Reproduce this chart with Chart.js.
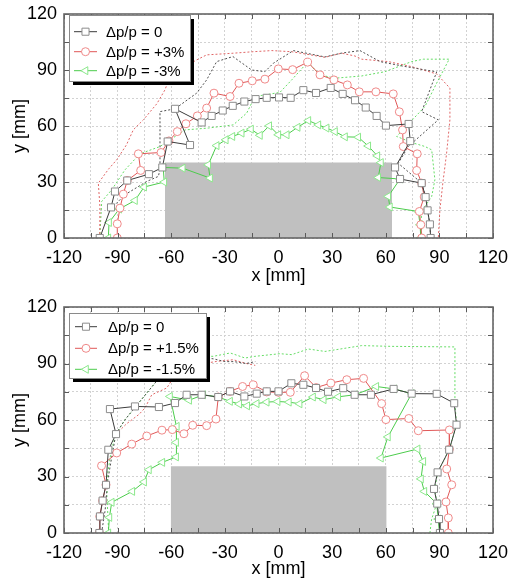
<!DOCTYPE html>
<html><head><meta charset="utf-8">
<script src="https://cdn.jsdelivr.net/npm/chart.js@4/dist/chart.umd.min.js"></script>
<style>
html,body{margin:0;padding:0;background:#fff;}
#wrap{width:510px;height:586px;position:relative;overflow:hidden;}
.pane{position:absolute;left:0;width:510px;height:293px;}
canvas{display:block;}
</style></head><body>
<div id="wrap">
<div class="pane" style="top:0"><canvas id="c1" width="510" height="293"></canvas></div>
<div class="pane" style="top:293px"><canvas id="c2" width="510" height="293"></canvas></div>
</div>
<script>
// ---------------- DATA ----------------
const xTickValues = [-120, -90, -60, -30, 0, 30, 60, 90, 120];
const yTickValues = [0, 30, 60, 90, 120];

const topLabels = ['\u0394p/p = 0', '\u0394p/p = +3%', '\u0394p/p = -3%'];
const bottomLabels = ['\u0394p/p = 0', '\u0394p/p = +1.5%', '\u0394p/p = -1.5%'];

// top panel: solid series with markers
const topZeroX = [-100, -93.7, -91.5, -84.6, -72.5, -65, -62, -49.5, -57.9, -43, -37.4, -31.2, -25.6, -19.1, -12.8, -6.6, 0.3, 6.8, 13.9, 21, 29.2, 35.9, 42.8, 48.8, 54.9, 60.1, 72.8, 73.7, 65.2, 68, 80.1, 82.3, 83.4, 84.7, 85.1];
const topZeroY = [0, 16.4, 24.9, 30.8, 34.2, 37.8, 51.7, 49.8, 69.2, 61.9, 65.4, 68.3, 70.8, 73.1, 74.4, 75.1, 75.3, 75.1, 79.2, 77.7, 80.4, 77.2, 73.8, 69.9, 65.4, 60.2, 61.1, 51.9, 37.8, 31.6, 29.4, 21.9, 14.8, 7.3, 0];
const topPlusX = [-90.2, -90.2, -88.7, -86.8, -84.6, -77.1, -78.4, -65.7, -61.3, -56.6, -51.8, -45.4, -40.2, -36.1, -27.1, -22.1, -14.7, -7.6, -0.1, 7.9, 16.3, 23.2, 31, 38.5, 45.2, 54.5, 64.2, 67.6, 69.4, 69.8, 77.6, 77.3, 80.1, 81.5, 78.8, 79.6, 80.1];
const topPlusY = [0, 7.6, 16, 23.5, 30.8, 36.2, 45.1, 45.8, 52, 57, 61.2, 65.4, 69.6, 77.6, 75.8, 82.9, 84.2, 85.1, 90.6, 90.2, 94.2, 87.4, 84.7, 82, 78.3, 78.3, 77.2, 67.6, 57.9, 49, 45.1, 36.2, 29.4, 22, 14.2, 7.1, 0];
const topMinusX = [-95.2, -94.8, -89.1, -80.3, -75.2, -63.9, -64.5, -53.6, -38.3, -39.3, -34.6, -29.5, -25.8, -20.6, -15.4, -10.4, -5.2, -0.1, 4.6, 10.7, 16.7, 22.3, 26.9, 31.6, 37.2, 44.6, 50.2, 55.3, 57.3, 55.8, 68, 61.4, 62.3, 78.2, 79.2, 79.6];
const topMinusY = [0, 8.3, 15.5, 20.1, 27.3, 30, 37.8, 37.4, 32.1, 39.2, 49.5, 52.6, 54.4, 56.2, 58.3, 55, 60.1, 55.3, 55.3, 59.3, 62.9, 60.6, 58.9, 57, 54.2, 54, 49.3, 44, 40.4, 32.4, 31.6, 22.3, 16.6, 14.2, 7.1, 0];

// top panel: dotted outlines
const topZeroDotX = [-92.4, -85.9, -73.7, -67.2, -66.3, -66.3, -57.9, -45.8, -40.2, -34.6, -25.5, -15, -7.6, -2.9, 8.3, 26, 35, 45.6, 56.8, 70, 88.5, 80.1, 89.4, 72.6, 67, 80.1, 82.3, 83.4, 84.7, 85.1];
const topZeroDotY = [16.9, 23.2, 30.3, 33, 37, 67.7, 69.2, 77.6, 84.7, 94.5, 97.2, 90, 89.1, 93.6, 100.4, 97, 99, 100.4, 94.5, 92, 89, 67.7, 63.3, 49, 40, 29.4, 21.9, 14.8, 7.3, 0];
const topPlusDotX = [-100, -99.9, -100.8, -95, -90.5, -85, -81.2, -75.6, -68, -63.5, -60.7, -52, -45.8, -40.2, -25.3, -14.1, -3.8, 7.4, 26, 35.3, 42.8, 46.5, 61.4, 74.5, 88.5, 95.9, 95.9, 94, 92, 90.3, 89.4];
const topPlusDotY = [0, 16.9, 29.4, 37, 41.9, 50, 58, 63.3, 72, 79.4, 86.5, 92, 95.4, 98.1, 99, 99.8, 100.4, 99.8, 96.8, 99, 97.5, 95.8, 94.5, 91.8, 87.9, 80.3, 63.3, 45, 30, 15.1, 0];
const topMinusDotX = [-100, -98.9, -93.3, -85.9, -77.5, -66.3, -52.3, -39.3, -25.3, -17.8, -13.2, 0.8, 7.4, 16.3, 23.2, 31.6, 46.5, 59.6, 74.5, 81, 95.5, 88.5, 81.9, 66.1, 75, 82, 85.7, 87.5, 85.7, 80, 79.6];
const topMinusDotY = [0, 19.6, 25.8, 36.5, 45.1, 49, 57.9, 58.9, 60.6, 66.9, 75.8, 78, 84.7, 94.2, 87.4, 85.6, 86.8, 89.1, 94.5, 95.8, 95.8, 83, 70.4, 54.4, 51, 49, 47.2, 31.2, 22.3, 14, 0];

// bottom panel: solid series with markers
const botZeroX = [-100.2, -99.9, -98.4, -96.5, -95.2, -90.9, -94.3, -80.3, -66.9, -57.9, -51.4, -43, -33.7, -27.1, -19.1, -12.2, -6.6, 0, 7.2, 13.9, 21, 27.7, 36.2, 42.6, 51.7, 64.4, 74.5, 88.5, 98.3, 99.6, 95.5, 89, 87, 88.8, 89.8, 90.3];
const botZeroY = [0, 8.8, 17.2, 25.6, 44.2, 52.5, 65.8, 67.2, 66.9, 69, 73.4, 73.4, 72.2, 75.2, 72.5, 74, 75.2, 75.2, 79.5, 78.7, 77, 75, 76.9, 73.4, 73.4, 76.5, 74, 73.9, 68.9, 57.5, 44.2, 32.2, 23.4, 15.6, 7.4, 0];
const botPlusX = [-100.2, -100, -98.4, -96.5, -99, -90.5, -82.1, -73.7, -65.2, -59.4, -52.9, -48, -40.2, -35, -33.7, -27.1, -20.1, -14.1, -6.6, 0, 6.6, 14.6, 21.1, 29.3, 38.2, 47.6, 57.7, 60.1, 72.9, 78.2, 95.6, 95.6, 94.1, 96.9, 93.7, 95, 95];
const botPlusY = [0, 8.8, 17.2, 25.6, 35.7, 42.5, 47.2, 51.5, 54.6, 54.9, 52.7, 57.2, 57, 60.5, 72.2, 75.2, 77.8, 78.7, 74.9, 74.7, 74.7, 83.5, 77.2, 79.6, 81.4, 82.1, 68.7, 60.2, 60.8, 54.3, 54.7, 44.5, 34, 25.6, 16.5, 8, 0];
const botMinusX = [-95.2, -94.6, -93.3, -81.8, -75.2, -72.5, -65, -57.3, -57.3, -56.9, -60.7, -50, -42.1, -33.7, -27.1, -22, -17.5, -12.2, -6.6, -0.5, 5.8, 11.8, 19.3, 25.3, 33.4, 42.8, 54.7, 64.7, 74.5, 61.2, 57.3, 77.8, 81, 79.7, 81.6, 88.5, 89.4, 90];
const botMinusY = [0, 8.3, 16.3, 22.1, 27.1, 33.6, 37.5, 40.4, 48.1, 56.6, 72.5, 70.5, 73.4, 72.2, 69.9, 68.5, 67.5, 68.7, 69.5, 69.8, 69.5, 68.6, 72.2, 70.8, 72.3, 73.4, 77.8, 76.5, 74, 51, 39.8, 44.6, 38, 28.7, 22.1, 15.6, 7.4, 0];

// bottom panel: dotted outlines
const botZeroDotX = [-99, -97, -95.5, -93, -91, -86, -80, -73.7, -64.4, -57, -51.4, -45, -36.5, -30, -25, -18, -13];
const botZeroDotY = [0, 12, 28, 42, 52.4, 60, 67, 74.3, 85, 91.5, 94.2, 93, 92.5, 91, 91, 90, 91];
const botPlusDotX = [-91, -85, -78, -74.7, -70.9, -62.5, -58.9, -52, -45.8, -34.6, -25.3, -18, -13];
const botPlusDotY = [52.4, 58, 63, 66.4, 73.4, 77, 82.3, 86, 89.4, 91.1, 92, 90, 89];
const botMinusDotX = [-95, -95.5, -96, -95.5, -93.5, -91, -86, -80, -73.7, -64.4, -57, -51.4, -45, -36.5, -27, -18.7, -13.2, 0.8, 7.4, 16.7, 26, 46.5, 63.3, 98.7, 98.7, 99.6, 95.5, 89, 87.5, 88.5, 85.6, 84.7];
const botMinusDotY = [0, 10, 20, 32, 44, 52.4, 60, 67, 74.3, 85, 92, 94.7, 94, 93.8, 95.6, 92.9, 93.8, 95.2, 94.7, 97.7, 96.4, 99.5, 99.1, 98.8, 69, 57.5, 44.2, 32.2, 23.4, 15.6, 7, 0];

// grey block (x extent, height)
const topBlockX = [-63.5, 63.5];
const topBlockY = [40.5, 40.5];
const botBlockX = [-60.3, 60.5];
const botBlockY = [35.4, 35.4];

// ---------------- STYLE ----------------
const FONT = "'Liberation Sans', Arial, Helvetica, sans-serif";
Chart.defaults.font.family = FONT;
Chart.defaults.color = '#000';

const ST = {
  zero:  {line: '#3c3c3c', mark: '#8c8c8c', style: 'rect', r: 5, rot: 0, dot: '#505050'},
  plus:  {line: '#e05858', mark: '#f08a8a', style: 'circle', r: 4, rot: 0, dot: '#e06666'},
  minus: {line: '#4ccc4c', mark: '#8ce88c', style: 'triangle', r: 4.6, rot: -90, dot: '#66dd66'}
};

function pts(xs, ys) { return xs.map((x, i) => ({x: x, y: ys[i]})); }

function solid(label, xs, ys, s) {
  return {label: label, data: pts(xs, ys), borderColor: s.line, borderWidth: 1, fill: false,
    pointStyle: s.style, pointRadius: s.r, pointRotation: s.rot, pointBorderColor: s.mark,
    pointBackgroundColor: '#ffffff', pointBorderWidth: 1, tension: 0, order: 1, _legend: s};
}
function dotted(xs, ys, s) {
  return {label: '', data: pts(xs, ys), borderColor: s.dot, borderWidth: 1, borderDash: [2, 2],
    fill: false, pointRadius: 0, tension: 0, order: 5};
}
function block(xs, ys) {
  return {label: '', data: pts(xs, ys), borderWidth: 0, borderColor: 'rgba(0,0,0,0)',
    backgroundColor: '#c0c0c0', fill: 'origin', pointRadius: 0, order: 10};
}

const framePlugin = {
  id: 'frameTicks',
  afterDatasetsDraw(chart) {
    const {ctx, chartArea: a, scales: {x, y}} = chart;
    ctx.save();
    ctx.strokeStyle = '#5a5a5a';
    ctx.lineWidth = 1;
    ctx.beginPath();
    for (let v = -120; v <= 120; v += 15) {
      const px = Math.round(x.getPixelForValue(v)) + 0.5;
      ctx.moveTo(px, a.bottom); ctx.lineTo(px, a.bottom - 5);
      ctx.moveTo(px, a.top); ctx.lineTo(px, a.top + 5);
    }
    for (let v = 0; v <= 120; v += 15) {
      const py = Math.round(y.getPixelForValue(v)) + 0.5;
      ctx.moveTo(a.left, py); ctx.lineTo(a.left + 5, py);
      ctx.moveTo(a.right, py); ctx.lineTo(a.right - 5, py);
    }
    ctx.stroke();
    ctx.lineWidth = 1.6;
    ctx.strokeStyle = '#666666';
    ctx.strokeRect(a.left, a.top, a.right - a.left, a.bottom - a.top);
    ctx.restore();
  },
  afterDraw(chart, args, opts) {
    if (!opts || !opts.box) return;
    const {ctx} = chart;
    const b = opts.box;
    ctx.save();
    ctx.fillStyle = '#000';
    ctx.fillRect(b.x + 4, b.y + 4, b.w, b.h);
    ctx.fillStyle = '#fff';
    ctx.fillRect(b.x, b.y, b.w, b.h);
    ctx.strokeStyle = '#8a8a8a';
    ctx.lineWidth = 1;
    ctx.strokeRect(b.x + 0.5, b.y + 0.5, b.w, b.h);
    const ds = chart.data.datasets.filter(d => d._legend);
    ds.forEach((d, i) => {
      const s = d._legend;
      const ry = b.rows[i];
      ctx.strokeStyle = s.line; ctx.lineWidth = 1; ctx.setLineDash([]);
      ctx.beginPath(); ctx.moveTo(b.l0, ry); ctx.lineTo(b.l1, ry); ctx.stroke();
      ctx.fillStyle = '#fff'; ctx.strokeStyle = s.mark;
      Chart.helpers.drawPoint(ctx, {pointStyle: s.style, radius: s.r, rotation: s.rot, borderWidth: 1}, (b.l0 + b.l1) / 2, ry);
      ctx.fillStyle = '#000';
      ctx.font = '15px ' + FONT;
      ctx.textBaseline = 'middle';
      ctx.textAlign = 'left';
      ctx.fillText(d.label, b.tx, ry + 1);
    });
    ctx.restore();
  }
};

function makeChart(id, datasets, axisH, box) {
  return new Chart(document.getElementById(id), {
    type: 'line',
    data: {datasets: datasets},
    plugins: [framePlugin],
    options: {
      responsive: false, animation: false, events: [],
      layout: {padding: {left: 0, right: 17, top: 14, bottom: 0}},
      plugins: {legend: {display: false}, tooltip: {enabled: false}, frameTicks: {box: box}},
      scales: {
        x: {type: 'linear', min: -120, max: 120,
          ticks: {stepSize: 15, autoSkip: false, maxRotation: 0, padding: 9, color: '#000', font: {size: 18},
            callback: v => xTickValues.includes(Math.round(v)) ? String(Math.round(v)) : ''},
          grid: {color: '#d2d2d2', lineWidth: 1, drawTicks: false},
          border: {display: false, dash: [2, 2]},
          title: {display: true, text: 'x [mm]', color: '#000', font: {size: 18}, padding: {top: 0, bottom: 6}},
          afterFit(s) { s.height = axisH; s.paddingLeft = 0; s.paddingRight = 0; }
        },
        y: {type: 'linear', min: 0, max: 120,
          ticks: {stepSize: 15, autoSkip: false, padding: 7, color: '#000', font: {size: 18},
            callback: v => yTickValues.includes(Math.round(v)) ? String(Math.round(v)) : ''},
          grid: {color: '#d2d2d2', lineWidth: 1, drawTicks: false},
          border: {display: false, dash: [2, 2]},
          title: {display: true, text: 'y [mm]', color: '#000', font: {size: 18}, padding: {top: 9, bottom: 0}},
          afterFit(s) { s.width = 64; s.paddingTop = 0; s.paddingBottom = 0; }
        }
      }
    }
  });
}

makeChart('c1', [
  solid(topLabels[0], topZeroX, topZeroY, ST.zero),
  solid(topLabels[1], topPlusX, topPlusY, ST.plus),
  solid(topLabels[2], topMinusX, topMinusY, ST.minus),
  dotted(topZeroDotX, topZeroDotY, ST.zero),
  dotted(topPlusDotX, topPlusDotY, ST.plus),
  dotted(topMinusDotX, topMinusDotY, ST.minus),
  block(topBlockX, topBlockY)
], 55, {x: 69, y: 15, w: 121, h: 66, rows: [31.7, 51.7, 70.7], l0: 74, l1: 97, tx: 106});

makeChart('c2', [
  solid(bottomLabels[0], botZeroX, botZeroY, ST.zero),
  solid(bottomLabels[1], botPlusX, botPlusY, ST.plus),
  solid(bottomLabels[2], botMinusX, botMinusY, ST.minus),
  dotted(botZeroDotX, botZeroDotY, ST.zero),
  dotted(botPlusDotX, botPlusDotY, ST.plus),
  dotted(botMinusDotX, botMinusDotY, ST.minus),
  block(botBlockX, botBlockY)
], 53, {x: 69, y: 20, w: 137, h: 65, rows: [33.7, 55.3, 76.3], l0: 75, l1: 97, tx: 108});
</script>
</body></html>
